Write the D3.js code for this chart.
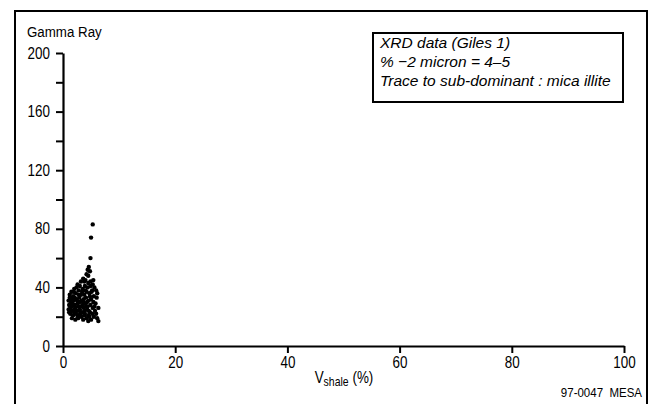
<!DOCTYPE html>
<html>
<head>
<meta charset="utf-8">
<script src="https://cdn.jsdelivr.net/npm/d3@7"></script>
<style>
  html, body { margin: 0; padding: 0; background: #fff; }
  svg { display: block; }
  text { font-family: "Liberation Sans", Arial, sans-serif; fill: #000; }
</style>
</head>
<body>
<svg id="chart" width="653" height="404"></svg>
<script>
// Gamma ray vs. shale volume, XRD samples (Giles 1)
const xTicks = [0, 20, 40, 60, 80, 100];
const yTicks = [0, 40, 80, 120, 160, 200];
const yMinorTicks = [20, 60, 100, 140, 180];
const legendLines = [
  "XRD data (Giles 1)",
  "% \u22122 micron = 4\u20135",
  "Trace to sub-dominant : mica illite"
];
// [Vshale %, Gamma Ray]
const vshale = [5.3,5.0,4.9,4.6,4.4,4.8,4.2,4.5,3.6,4.0,3.2,4.9,5.3,2.6,3.0,3.9,4.4,5.6,5.9,6.1,
  2.0,1.5,1.2,1.8,2.3,2.8,3.4,3.8,4.2,4.7,5.1,5.5,6.0,1.0,1.4,1.9,2.4,2.9,3.3,3.7,
  4.1,4.6,5.0,5.4,5.8,1.1,1.6,2.1,2.6,3.1,3.5,4.0,4.4,4.9,5.3,6.3,1.0,1.5,2.0,2.5,
  3.0,3.4,3.9,4.3,4.8,5.2,5.9,1.3,1.8,2.3,2.8,3.3,3.8,4.2,4.7,6.1,1.6,2.2,2.7,3.6,
  4.5,5.0,6.3,1.2,1.7,2.2,2.7,3.2,3.6,4.3,4.8,2.4,1.9,5.2,4.0,3.5,2.9,3.7,4.6,1.3,
  2.0,2.5,3.0,5.6,5.7,1.5,2.8,4.5,3.8,4.9,5.4,2.1,3.9,1.1,2.6,3.1,4.1,4.5,5.5];
const gammaRay = [83,74,60,54,52,51,49,48,46,45,44,44,42,42,41,41,40,40,38,36,
  39,37,35,34,36,38,37,35,37,36,37,34,33,31,30,31,32,33,31,32,
  33,31,32,30,29,28,27,28,29,27,28,29,27,28,26,26,25,24,25,24,
  25,23,24,25,23,22,22,22,21,22,21,20,21,19,20,19,19,18,19,18,
  17,18,17,33,29,26,27,35,30,30,34,40,37,38,38,39,24,26,24,26,
  23,31,30,27,24,32,35,43,44,41,45,33,22,23,20,22,27,21,20];

const NARROW = 0.84;   // horizontal squeeze for the condensed axis lettering

// squeeze text horizontally while keeping its anchor point in place
function condense(sel, k) {
  sel.each(function () {
    const t = d3.select(this);
    const x0 = +(t.attr("x") || 0);
    t.attr("x", x0 / k).attr("transform", `scale(${k},1)`);
  });
}

const svg = d3.select("#chart");

// outer frame
svg.append("rect")
  .attr("x", 15).attr("y", 11).attr("width", 632).attr("height", 420)
  .attr("fill", "none").attr("stroke", "#000").attr("stroke-width", 2);

const x = d3.scaleLinear().domain([0, 100]).range([63, 624]);
const y = d3.scaleLinear().domain([0, 200]).range([346, 53]);

// x axis
const xAxis = svg.append("g")
  .attr("transform", `translate(0,${y(0)})`)
  .call(d3.axisBottom(x).tickValues(xTicks).tickSize(7).tickPadding(4).tickSizeOuter(0));
// y axis
const yAxis = svg.append("g")
  .attr("transform", `translate(${x(0)},0)`)
  .call(d3.axisLeft(y).tickValues(yTicks).tickSize(7).tickPadding(6).tickSizeOuter(0));
svg.append("g")
  .attr("transform", `translate(${x(0)},0)`)
  .call(d3.axisLeft(y).tickValues(yMinorTicks).tickSize(7).tickFormat("").tickSizeOuter(0))
  .call(g => g.select(".domain").remove())
  .selectAll("line").attr("stroke-width", 2);

[xAxis, yAxis].forEach(g => {
  g.select(".domain").attr("stroke-width", 2.2);
  g.selectAll(".tick line").attr("stroke-width", 2);
  g.selectAll(".tick text")
    .attr("font-family", null)
    .attr("font-size", 16)
    .call(condense, NARROW);
});

// points
svg.append("g").selectAll("circle")
  .data(vshale.map((v, i) => [v, gammaRay[i]]))
  .join("circle")
  .attr("cx", d => x(d[0]))
  .attr("cy", d => y(d[1]))
  .attr("r", 2.2)
  .attr("fill", "#000");

// axis titles
svg.append("text")
  .attr("x", 27).attr("y", 37)
  .attr("font-size", 15.5)
  .text("Gamma Ray")
  .call(condense, 0.86);

const xt = svg.append("text")
  .attr("x", 344).attr("y", 383)
  .attr("text-anchor", "middle")
  .attr("font-size", 16);
xt.append("tspan").text("V");
xt.append("tspan").attr("font-size", 12.5).attr("dy", 3).text("shale");
xt.append("tspan").attr("dy", -3).text(" (%)");
xt.call(condense, NARROW);

// legend box
svg.append("rect")
  .attr("x", 373).attr("y", 33).attr("width", 250).attr("height", 69)
  .attr("fill", "#fff").attr("stroke", "#000").attr("stroke-width", 2);
svg.append("g").selectAll("text")
  .data(legendLines)
  .join("text")
  .attr("x", 380)
  .attr("y", (d, i) => 48 + i * 19)
  .attr("font-style", "italic")
  .attr("font-size", 15.5)
  .text(d => d);

// figure id
svg.append("text")
  .attr("x", 642).attr("y", 397)
  .attr("text-anchor", "end")
  .attr("font-size", 12.5)
  .attr("xml:space", "preserve")
  .text("97-0047  MESA")
  .call(condense, 0.92);
</script>
</body>
</html>
